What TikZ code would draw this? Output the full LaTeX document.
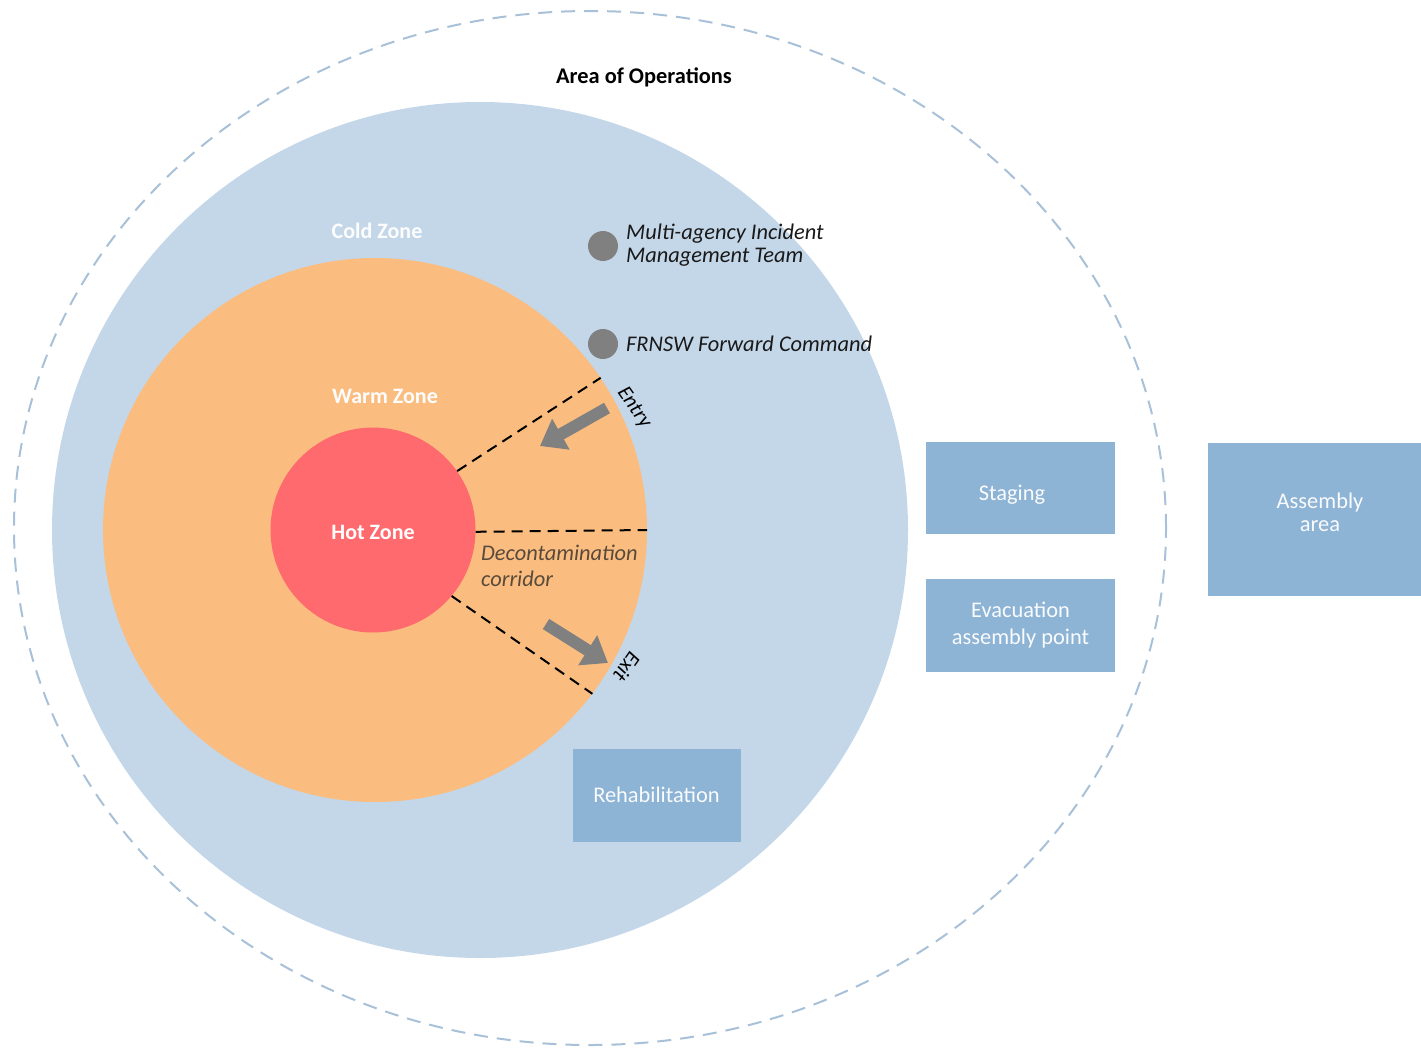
\documentclass[tikz,border=0pt]{standalone}
\usepackage{fontspec}
\setmainfont{Carlito}
\usetikzlibrary{arrows.meta}
\definecolor{coldc}{HTML}{C4D7E9}
\definecolor{warmc}{HTML}{FABD7F}
\definecolor{hotc}{HTML}{FF6A6E}
\definecolor{boxc}{HTML}{8DB3D5}
\definecolor{dotc}{HTML}{808080}
\definecolor{outerc}{HTML}{A8C1D8}
\definecolor{decc}{HTML}{5A4A3C}
\tikzset{
  zone/.style={circle, inner sep=0pt, draw=none},
  areabox/.style={rectangle, fill=boxc, draw=none, text=white!95!boxc, font=\fontsize{22.4}{27}\selectfont, align=center, inner sep=0pt},
  marker/.style={circle, fill=dotc, draw=none, minimum size=30pt, inner sep=0pt},
  mlabel/.style={anchor=west, font=\fontsize{22.4}{23}\selectfont\itshape, align=left, inner sep=0pt, text=black!90},
  zonelabel/.style={font=\fontsize{22}{26}\selectfont\bfseries, text=white!96!coldc, inner sep=0pt},
  corridor/.style={draw=black, dash pattern=on 11pt off 7pt, line width=2pt},
  flow/.style={draw=dotc, line width=12pt, -{Triangle[length=24pt,width=34pt]}},
  gatelabel/.style={font=\fontsize{21}{24}\selectfont\itshape, text=black, inner sep=0pt}
}
\begin{document}
\begin{tikzpicture}[x=1pt,y=-1pt]
\fill[white] (0,0) rectangle (1421,1047);
\useasboundingbox (0,0) rectangle (1421,1047);
% outer area of operations
\draw[outerc, line width=2pt, dash pattern=on 14pt off 9pt] (590,528) ellipse [x radius=576pt, y radius=517pt];
\node[font=\fontsize{22.4}{26}\selectfont\bfseries, inner sep=0pt] (aoo) at (644,77) {Area of Operations};
% zones
\node[zone, fill=coldc, minimum size=856pt] (cold) at (480,530) {};
\node[zone, fill=warmc, minimum size=544pt] (warm) at (375,530) {};
\node[zone, fill=hotc, minimum size=205pt] (hot) at (373,530) {};
\node[zonelabel] (coldl) at (377,231) {Cold Zone};
\node[zonelabel] (warml) at (385,396) {Warm Zone};
\node[zonelabel] (hotl) at (373,532) {Hot Zone};
% corridor lines
\draw[corridor] (hot.35) -- (warm.34.5);
\draw[corridor] (hot.-1.5) -- (warm.0.3);
\draw[corridor] (hot.-40) -- (warm.-37);
\node[anchor=north west, align=left, inner sep=0pt, text=decc, font=\fontsize{22.4}{26}\selectfont\itshape] (deco) at (481,545) {Decontamination\\corridor};
% entry / exit arrows
\coordinate (entryA) at (607,408);
\coordinate (entryB) at (540,446);
\coordinate (exitA) at (546,624);
\coordinate (exitB) at (608,663);
\draw[flow] (entryA) -- (entryB);
\draw[flow] (exitA) -- (exitB);
\node[gatelabel, rotate=-55] (entryl) at (634,408) {Entry};
\node[gatelabel, rotate=-125] (exitl) at (627,667) {Exit};
% command markers
\node[marker] (mit) at (603,246) {};
\node[mlabel] (mitl) at (626,245) {Multi-agency Incident\\Management Team};
\node[marker] (fc) at (603,344) {};
\node[mlabel] (fcl) at (626,344) {FRNSW Forward Command};
% boxes
\node[areabox, minimum width=168pt, minimum height=93pt] (rehab) at (656.5,795) {Rehabilitation};
\node[areabox, minimum width=189pt, minimum height=92pt] (staging) at (1020.5,488) {};
\node[font=\fontsize{22.4}{27}\selectfont, text=white!95!boxc, inner sep=0pt] (stagingl) at (1012,495) {Staging};
\node[areabox, minimum width=189pt, minimum height=93pt] (evac) at (1020.5,625.5) {Evacuation\\assembly point};
\node[areabox, minimum width=213pt, minimum height=153pt] (assembly) at (1314.5,519.5) {};
\node[font=\fontsize{22.4}{23}\selectfont, text=white!95!boxc, inner sep=0pt, align=center] (assemblyl) at (1320,512) {Assembly\\area};
\end{tikzpicture}
\end{document}
